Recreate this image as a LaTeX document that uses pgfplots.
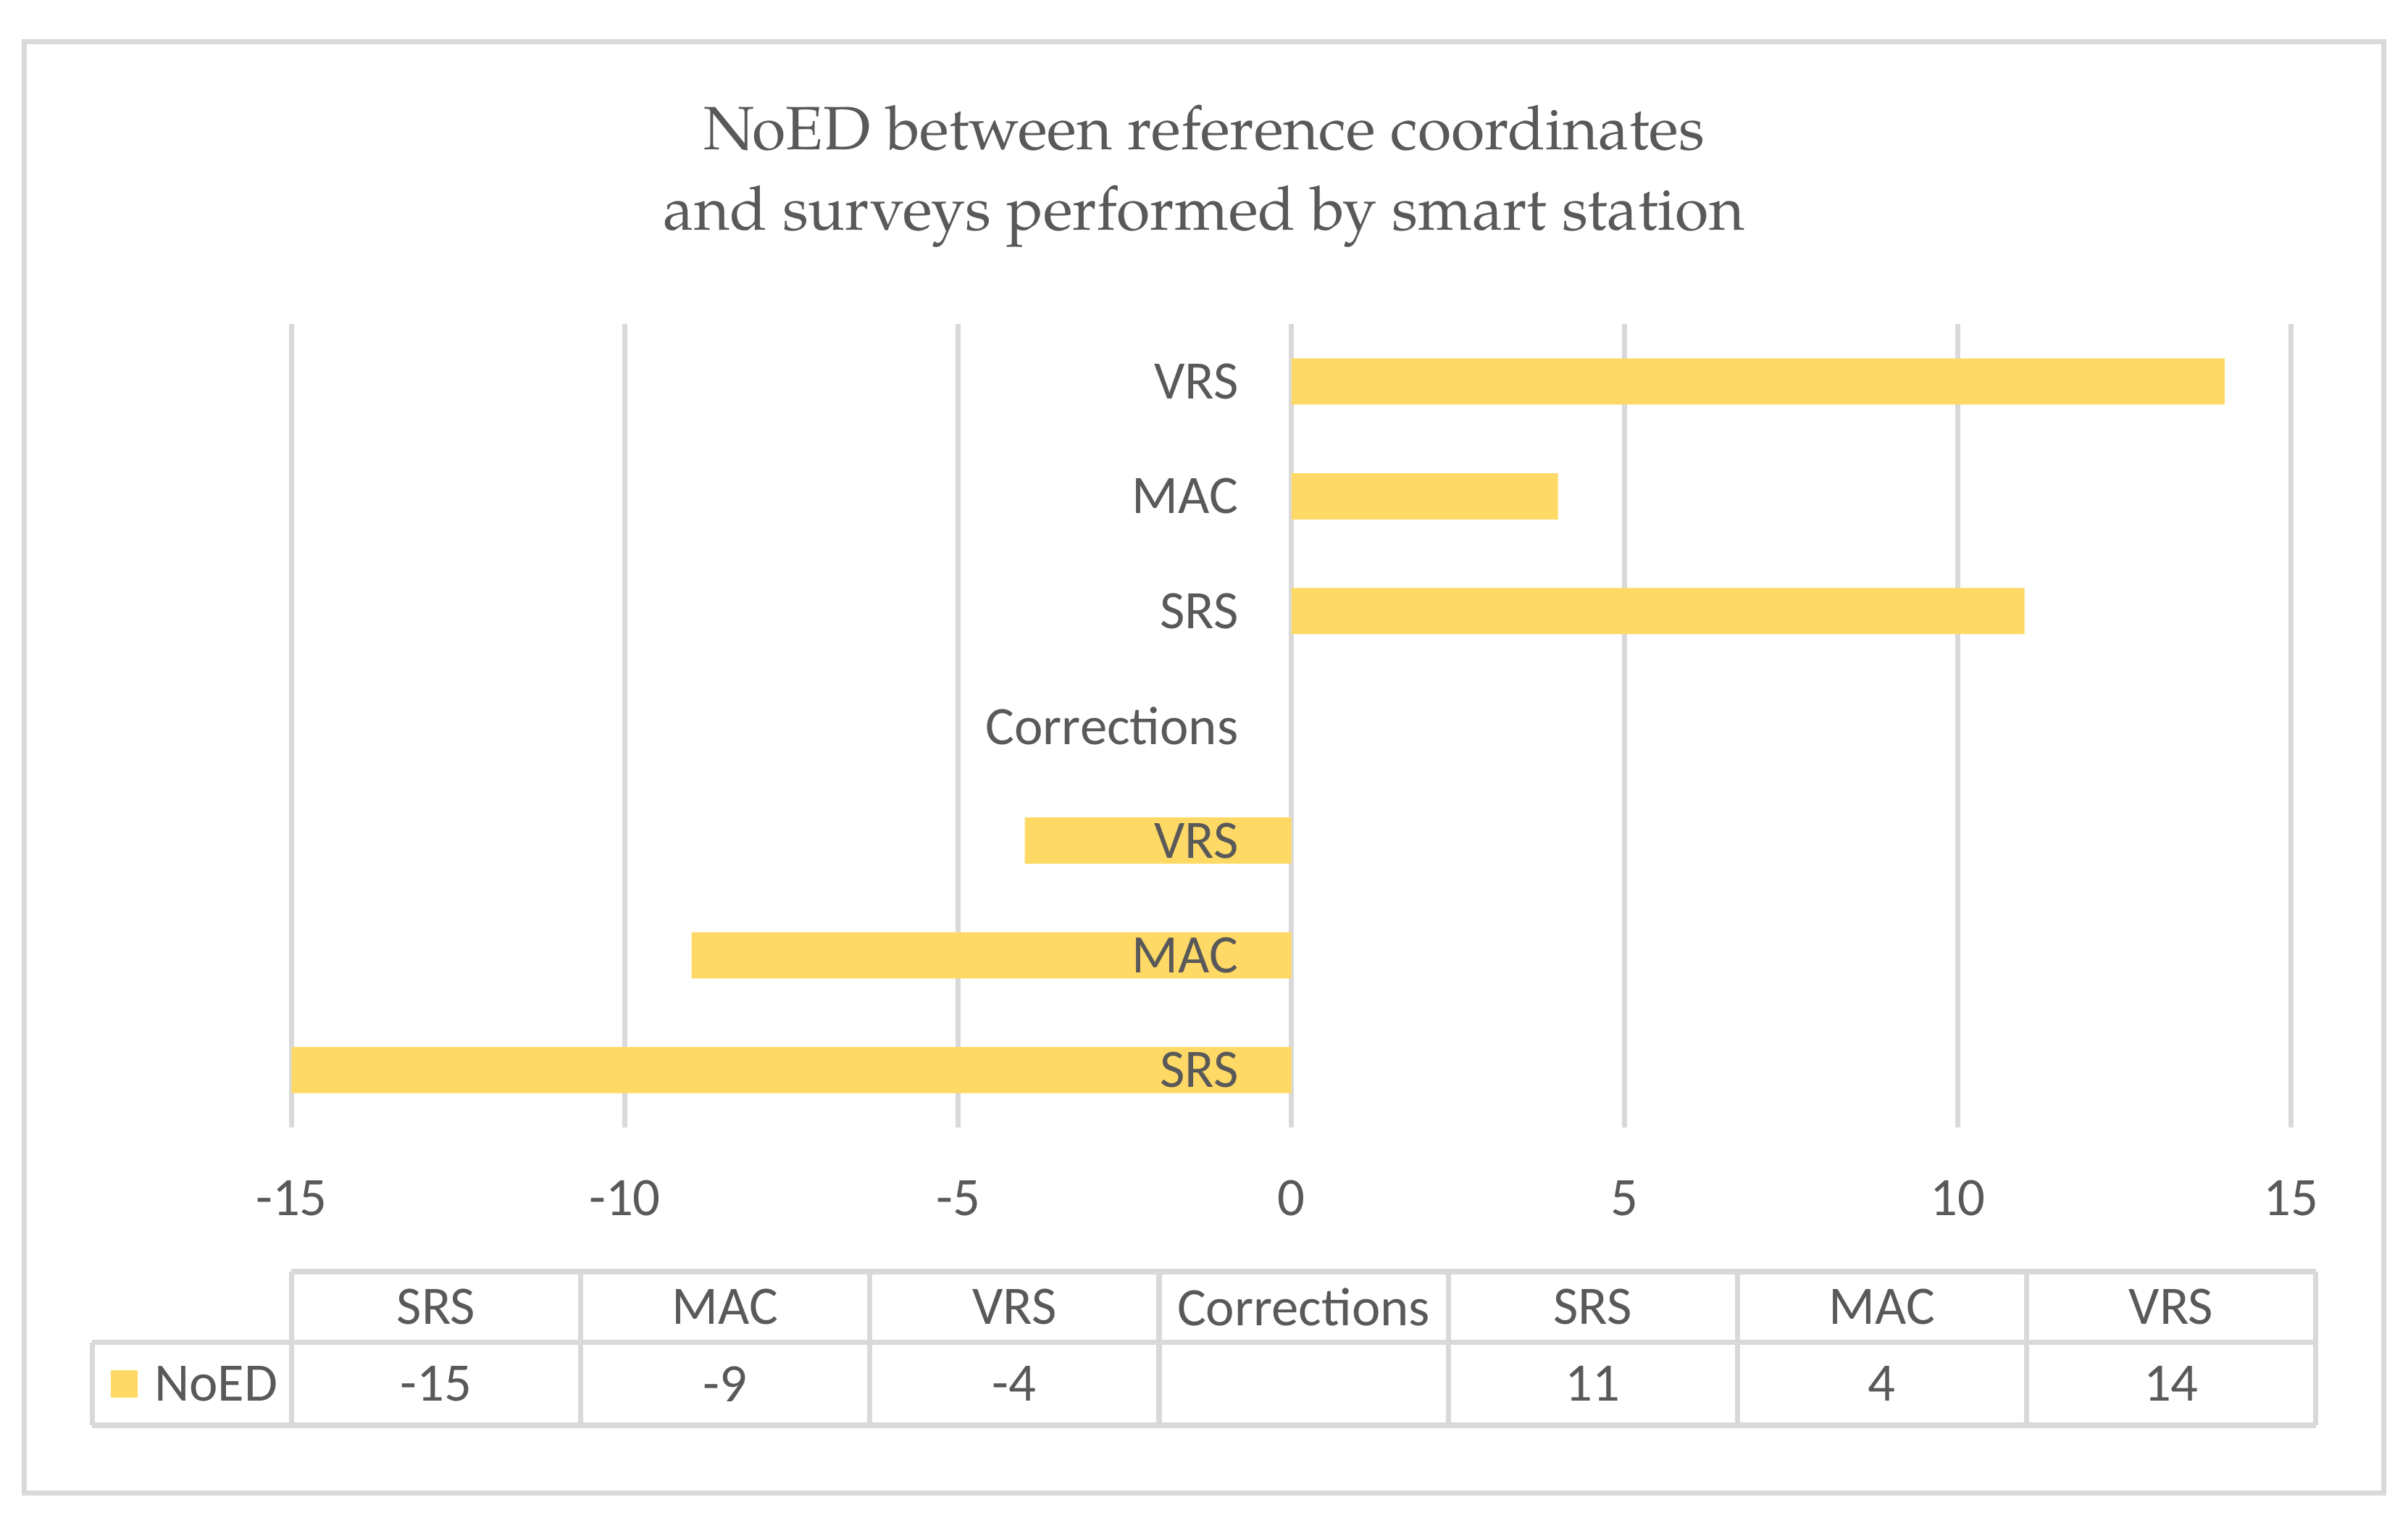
\documentclass[border=0pt]{standalone}
\usepackage{fontspec}
\setmainfont{Carlito}
\newfontfamily\titlefont{texgyrepagella-regular.otf}
\usepackage{pgfplots}
\pgfplotsset{compat=1.18}
\usepackage{pgfplotstable}

\definecolor{txt}{HTML}{595959}
\definecolor{grd}{HTML}{D9D9D9}
\definecolor{barcol}{HTML}{FFD966}

% NoED per correction type
\pgfplotstableread{
idx name val lab
0 SRS -15 -15
1 MAC -9 -9
2 VRS -4 -4
3 Corrections nan {}
4 SRS 11 11
5 MAC 4 4
6 VRS 14 14
}\noed

\newcommand{\lblfont}{\fontsize{11.5}{13}\selectfont}

\pgfplotsset{
  mainframe/.style={
    at={(61.9pt,82.8pt)}, anchor=south west,
    width=424.5pt, height=170.5pt, scale only axis,
    xmin=-15, xmax=15, ymin=-0.5, ymax=6.5,
    axis line style={draw=none},
    major tick length=0pt,
    tick label style={font=\lblfont, text=txt},
  }
}

\begin{document}
\begin{tikzpicture}
\useasboundingbox (0,0) rectangle (511.2pt,322.1pt);
\draw[grd, line width=1.1pt] (5.2pt,5.2pt) rectangle (506pt,313.3pt);

\node[anchor=base, text=txt, font=\titlefont\fontsize{13}{15}\selectfont, inner sep=0pt]
  at (255.6pt,290.4pt) {NoED between reference coordinates};
\node[anchor=base, text=txt, font=\titlefont\fontsize{13}{15}\selectfont, inner sep=0pt]
  at (255.6pt,273.2pt) {and surveys performed by smart station};

\begin{axis}[
    mainframe,
    xbar, bar width=9.8pt,
    xtick={-15,-10,...,15},
    xticklabels={-15,-10,-5,0,5,10,15},
    ytick=\empty,
    xmajorgrids,
    grid style={grd, line width=1.1pt},
    xticklabel style={anchor=center, yshift=-15pt},
]
\addplot[fill=barcol, draw=none] table[x=val, y=idx] {\noed};
\end{axis}

% category names on top of the bars
\begin{axis}[
    mainframe,
    xtick=\empty,
    ytick={0,...,6},
    yticklabels from table={\noed}{name},
    yticklabel style={anchor=east, inner sep=0pt, xshift=201.2pt},
]
\end{axis}

% data table under the chart
\begin{axis}[
    at={(61.9pt,19.6pt)}, anchor=south west,
    width=429.7pt, height=32.6pt, scale only axis,
    xmin=-0.5, xmax=6.5, ymin=0, ymax=100,
    hide axis, clip=false,
    nodes near coords, point meta=explicit symbolic,
    nodes near coords align={center},
    every node near coord/.append style={font=\lblfont, text=txt, anchor=center},
]
\addplot[draw=none, mark=none] table[x=idx, y expr=27, meta=lab] {\noed};
\addplot[draw=none, mark=none] table[x=idx, y expr=77, meta=name] {\noed};

\draw[grd, line width=1.1pt] (axis cs:-0.5,100) -- (axis cs:6.5,100);
\draw[grd, line width=1.1pt] (axis cs:-1.19,54) -- (axis cs:6.5,54);
\draw[grd, line width=1.1pt] (axis cs:-1.19,0) -- (axis cs:6.5,0);
\draw[grd, line width=1.1pt] (axis cs:-1.19,0) -- (axis cs:-1.19,54);
\pgfplotsinvokeforeach{-0.5,0.5,1.5,2.5,3.5,4.5,5.5,6.5}{
  \draw[grd, line width=1.1pt] (axis cs:#1,0) -- (axis cs:#1,100);
}
\node[fill=barcol, minimum size=5.8pt, inner sep=0pt] at (axis cs:-1.079,27) {};
\node[anchor=west, font=\lblfont, text=txt, inner sep=0pt] at (axis cs:-0.978,27) {NoED};
\end{axis}
\end{tikzpicture}
\end{document}
